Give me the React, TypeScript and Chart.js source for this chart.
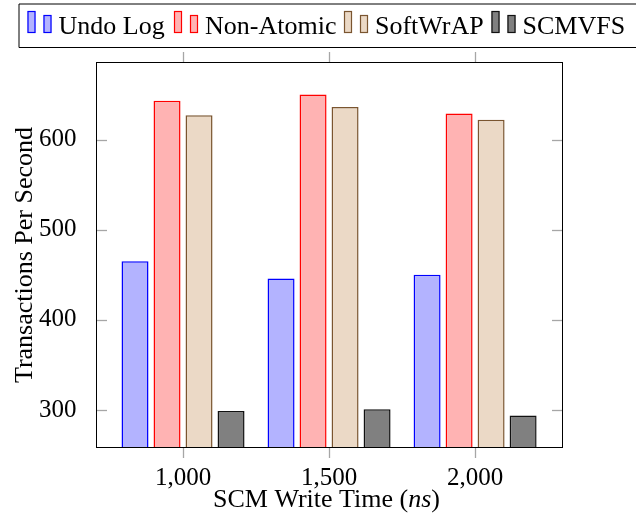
import React, { useEffect, useRef } from 'react';
import { Chart, registerables } from 'chart.js';

Chart.register(...registerables);

const writeTimes = [1000, 1500, 2000];
const seriesLabels = ['Undo Log', 'Non-Atomic', 'SoftWrAP', 'SCMVFS'];
const undoLog = [465, 446, 450];
const nonAtomic = [643, 650, 629];
const softWrAP = [627, 636, 622];
const scmvfs = [299, 301, 294];
const yTicks = [300, 400, 500, 600];
const fills = ['#b3b3ff', '#ffb3b3', '#ebd9c6', '#808080'];
const borders = ['#0000ff', '#ff0000', '#7a5530', '#111111'];

const SERIF = '"Liberation Serif", "Times New Roman", serif';

const decorPlugin = {
  id: 'decor',
  afterDraw(chart: any) {
    const { ctx, chartArea: a, scales } = chart;
    const xs = scales.x;
    const ys = scales.y;
    ctx.save();
    const line = (x1: number, y1: number, x2: number, y2: number) => {
      ctx.beginPath();
      ctx.moveTo(x1, y1);
      ctx.lineTo(x2, y2);
      ctx.stroke();
    };
    // tick marks
    ctx.strokeStyle = '#a6a6a6';
    ctx.lineWidth = 1.3;
    yTicks.forEach((v) => {
      const py = Math.round(ys.getPixelForValue(v)) + 0.5;
      line(a.left, py, a.left + 11, py);
      line(a.right - 11, py, a.right, py);
    });
    writeTimes.forEach((v) => {
      const px = Math.round(xs.getPixelForValue(v)) + 0.5;
      line(px, a.bottom, px, a.bottom + 10);
      line(px, a.top - 10, px, a.top);
    });
    // axis box
    ctx.strokeStyle = '#000';
    ctx.lineWidth = 1;
    ctx.strokeRect(a.left + 0.5, a.top + 0.5, a.right - a.left - 1, a.bottom - a.top - 1);

    // axis titles
    ctx.fillStyle = '#000';
    ctx.font = '26px ' + SERIF;
    ctx.save();
    ctx.translate(32, (a.top + a.bottom) / 2);
    ctx.rotate(-Math.PI / 2);
    ctx.textAlign = 'center';
    ctx.textBaseline = 'alphabetic';
    ctx.fillText('Transactions Per Second', 0, 0);
    ctx.restore();

    const parts = [
      { t: 'SCM Write Time (', f: '26px ' + SERIF },
      { t: 'ns', f: 'italic 26px ' + SERIF },
      { t: ')', f: '26px ' + SERIF },
    ];
    let total = 0;
    parts.forEach((p) => {
      ctx.font = p.f;
      total += ctx.measureText(p.t).width;
    });
    let cx = (a.left + a.right) / 2 - 3 - total / 2;
    ctx.textAlign = 'left';
    ctx.textBaseline = 'alphabetic';
    parts.forEach((p) => {
      ctx.font = p.f;
      ctx.fillText(p.t, cx, 506.5);
      cx += ctx.measureText(p.t).width;
    });

    // legend
    const legendX = [27.5, 174, 344, 491.5];
    ctx.strokeStyle = '#000';
    ctx.lineWidth = 1;
    ctx.beginPath();
    ctx.moveTo(chart.width + 5, 4);
    ctx.lineTo(19, 4);
    ctx.lineTo(19, 47.5);
    ctx.lineTo(chart.width + 5, 47.5);
    ctx.stroke();
    chart.data.datasets.forEach((ds: any, i: number) => {
      const x0 = legendX[i];
      ctx.fillStyle = ds.backgroundColor;
      ctx.strokeStyle = ds.borderColor;
      ctx.lineWidth = 1.2;
      ctx.fillRect(x0, 11, 8, 22);
      ctx.strokeRect(x0 + 0.5, 11.5, 7, 21);
      ctx.fillRect(x0 + 16, 15, 8, 18);
      ctx.strokeRect(x0 + 16.5, 15.5, 7, 17);
      ctx.fillStyle = '#000';
      ctx.font = '26px ' + SERIF;
      ctx.textAlign = 'left';
      ctx.textBaseline = 'alphabetic';
      ctx.fillText(ds.label, x0 + 31, 33.5);
    });
    ctx.restore();
  },
};

export default function App() {
  const canvasRef = useRef<HTMLCanvasElement | null>(null);

  useEffect(() => {
    const canvas = canvasRef.current;
    if (!canvas) return;
    const seriesValues = [undoLog, nonAtomic, softWrAP, scmvfs];
    const chart = new Chart(canvas, {
      type: 'bar',
      data: {
        datasets: seriesValues.map((vals, i) => ({
          label: seriesLabels[i],
          data: vals.map((v, j) => ({ x: writeTimes[j], y: v })),
          backgroundColor: fills[i],
          borderColor: borders[i],
          borderWidth: 1.5,
          categoryPercentage: 128 / 146,
          barPercentage: 27 / 32,
        })),
      },
      options: {
        responsive: false,
        animation: false,
        layout: { padding: { left: 0, top: 62, right: 73, bottom: 0 } },
        plugins: {
          legend: { display: false },
          tooltip: { enabled: false },
        },
        scales: {
          x: {
            type: 'linear',
            min: 702,
            max: 2301,
            offset: false,
            grid: { display: false, offset: false },
            border: { display: false },
            afterBuildTicks: (s: any) => {
              s.ticks = writeTimes.map((v) => ({ value: v }));
            },
            afterFit: (s: any) => {
              s.height = 70;
            },
            ticks: {
              autoSkip: false,
              maxRotation: 0,
              padding: 7,
              color: '#000',
              font: { family: SERIF, size: 25 },
              callback: (v: any) => Number(v).toLocaleString('en-US'),
            },
          },
          y: {
            type: 'linear',
            min: 258,
            max: 686,
            grid: { display: false },
            border: { display: false },
            afterBuildTicks: (s: any) => {
              s.ticks = yTicks.map((v) => ({ value: v }));
            },
            afterFit: (s: any) => {
              s.width = 96;
            },
            ticks: {
              padding: 11.5,
              color: '#000',
              font: { family: SERIF, size: 25 },
              callback: (v: any) => String(v),
            },
          },
        },
      },
      plugins: [decorPlugin],
    });
    return () => chart.destroy();
  }, []);

  return (
    <div style={{ position: 'fixed', left: 0, top: 0, width: 636, height: 518, background: '#fff' }}>
      <canvas ref={canvasRef} width={636} height={518} style={{ display: 'block' }} />
    </div>
  );
}
